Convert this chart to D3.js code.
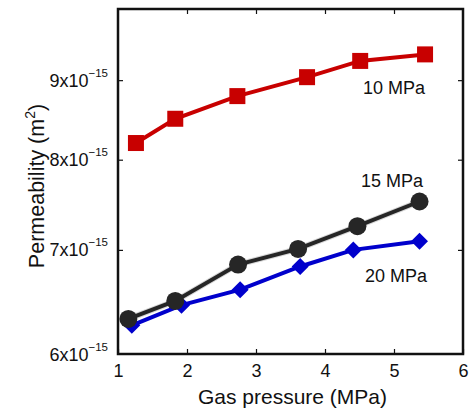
<!DOCTYPE html>
<html><head><meta charset="utf-8">
<script src="https://cdn.jsdelivr.net/npm/d3@7"></script>
<style>body{margin:0;background:#fff}svg{display:block}text{font-family:"Liberation Sans",Arial,sans-serif;fill:#111}</style>
</head><body><svg id="c" width="470" height="410"></svg>
<script>
// Data
const series10x = [1.26, 1.83, 2.73, 3.74, 4.51, 5.45];
const series10y = [8.20e-15, 8.50e-15, 8.79e-15, 9.04e-15, 9.26e-15, 9.35e-15];
const series15x = [1.15, 1.83, 2.74, 3.61, 4.47, 5.37];
const series15y = [6.32e-15, 6.49e-15, 6.85e-15, 7.01e-15, 7.25e-15, 7.52e-15];
const series20x = [1.20, 1.92, 2.77, 3.64, 4.41, 5.37];
const series20y = [6.26e-15, 6.45e-15, 6.60e-15, 6.83e-15, 7.00e-15, 7.09e-15];
const seriesNames = ["10 MPa", "15 MPa", "20 MPa"];
const xTicks = [1, 2, 3, 4, 5, 6];
const yTicks = [6e-15, 7e-15, 8e-15, 9e-15];
const yTickMantissa = ["6", "7", "8", "9"];

const svg = d3.select("#c");
const L = 118, R = 463, T = 9, B = 354;
const x = d3.scaleLinear().domain([1, 6]).range([L, R]);
const y = d3.scaleLog().domain([6e-15, 1e-14]).range([B, T]);

// ticks inside frame
const tickLen = 5;
const gx = svg.append("g").attr("transform", `translate(0,${B})`)
  .call(d3.axisBottom(x).tickValues(xTicks).tickSize(-tickLen).tickPadding(10).tickFormat(d3.format("d")));
gx.select(".domain").remove();
gx.selectAll("text").attr("font-size", 18).attr("fill", "#111");
gx.selectAll("line").attr("stroke", "#111").attr("stroke-width", 1.2);
const gxt = svg.append("g").attr("transform", `translate(0,${T})`)
  .call(d3.axisTop(x).tickValues(xTicks.slice(1, -1)).tickSize(-tickLen).tickFormat(""));
gxt.select(".domain").remove();
gxt.selectAll("line").attr("stroke", "#111").attr("stroke-width", 1.2);

const gy = svg.append("g").attr("transform", `translate(${L},0)`)
  .call(d3.axisLeft(y).tickValues(yTicks.slice(1)).tickSize(-tickLen).tickFormat(""));
gy.select(".domain").remove();
gy.selectAll("line").attr("stroke", "#111").attr("stroke-width", 1.2);
const gyr = svg.append("g").attr("transform", `translate(${R},0)`)
  .call(d3.axisRight(y).tickValues(yTicks.slice(1)).tickSize(-tickLen).tickFormat(""));
gyr.select(".domain").remove();
gyr.selectAll("line").attr("stroke", "#111").attr("stroke-width", 1.2);

// y tick labels with superscript
yTicks.forEach((v, i) => {
  const t = svg.append("text").attr("x", L - 10).attr("y", y(v) + 6.5)
    .attr("text-anchor", "end").attr("font-size", 18);
  t.append("tspan").text(yTickMantissa[i] + "x10");
  t.append("tspan").attr("font-size", 11.5).attr("dy", -10).text("\u221215");
});

// frame
svg.append("rect").attr("x", L).attr("y", T).attr("width", R - L).attr("height", B - T)
  .attr("fill", "none").attr("stroke", "#111").attr("stroke-width", 2.5);

// axis titles
svg.append("text").attr("x", (L + R) / 2 + 2).attr("y", 404).attr("text-anchor", "middle")
  .attr("font-size", 21).text("Gas pressure (MPa)");
const yt = svg.append("text").attr("transform", `translate(44,186) rotate(-90)`)
  .attr("text-anchor", "middle").attr("font-size", 21.5);
yt.append("tspan").text("Permeability (m");
yt.append("tspan").attr("font-size", 14).attr("dy", -9).text("2");
yt.append("tspan").attr("dy", 9).text(")");

// series
const line = d3.line().x(d => x(d[0])).y(d => y(d[1]));
const mk = (xs, ys) => xs.map((v, i) => [v, ys[i]]);
const d10 = mk(series10x, series10y), d15 = mk(series15x, series15y), d20 = mk(series20x, series20y);

// 20 MPa blue
svg.append("path").datum(d20).attr("d", line).attr("fill", "none").attr("stroke", "#0000cc").attr("stroke-width", 4);
svg.selectAll(".dia").data(d20).enter().append("path")
  .attr("d", "M0,-8.5L8.5,0L0,8.5L-8.5,0Z")
  .attr("transform", d => `translate(${x(d[0])},${y(d[1])})`)
  .attr("fill", "#0000cc");
// 15 MPa black
svg.append("path").datum(d15).attr("d", line).attr("fill", "none").attr("stroke", "#d8d8d8").attr("stroke-width", 6);
svg.append("path").datum(d15).attr("d", line).attr("fill", "none").attr("stroke", "#262626").attr("stroke-width", 4);
svg.selectAll(".circ").data(d15).enter().append("circle")
  .attr("cx", d => x(d[0])).attr("cy", d => y(d[1])).attr("r", 9).attr("fill", "#262626");
// 10 MPa red
svg.append("path").datum(d10).attr("d", line).attr("fill", "none").attr("stroke", "#c80000").attr("stroke-width", 4);
svg.selectAll(".sq").data(d10).enter().append("rect")
  .attr("x", d => x(d[0]) - 8).attr("y", d => y(d[1]) - 8).attr("width", 16).attr("height", 16)
  .attr("fill", "#c80000");

// labels
svg.append("text").attr("x", 363).attr("y", 94).attr("font-size", 18).text(seriesNames[0]);
svg.append("text").attr("x", 361).attr("y", 187).attr("font-size", 18).text(seriesNames[1]);
svg.append("text").attr("x", 365).attr("y", 282).attr("font-size", 18).text(seriesNames[2]);
</script></body></html>
